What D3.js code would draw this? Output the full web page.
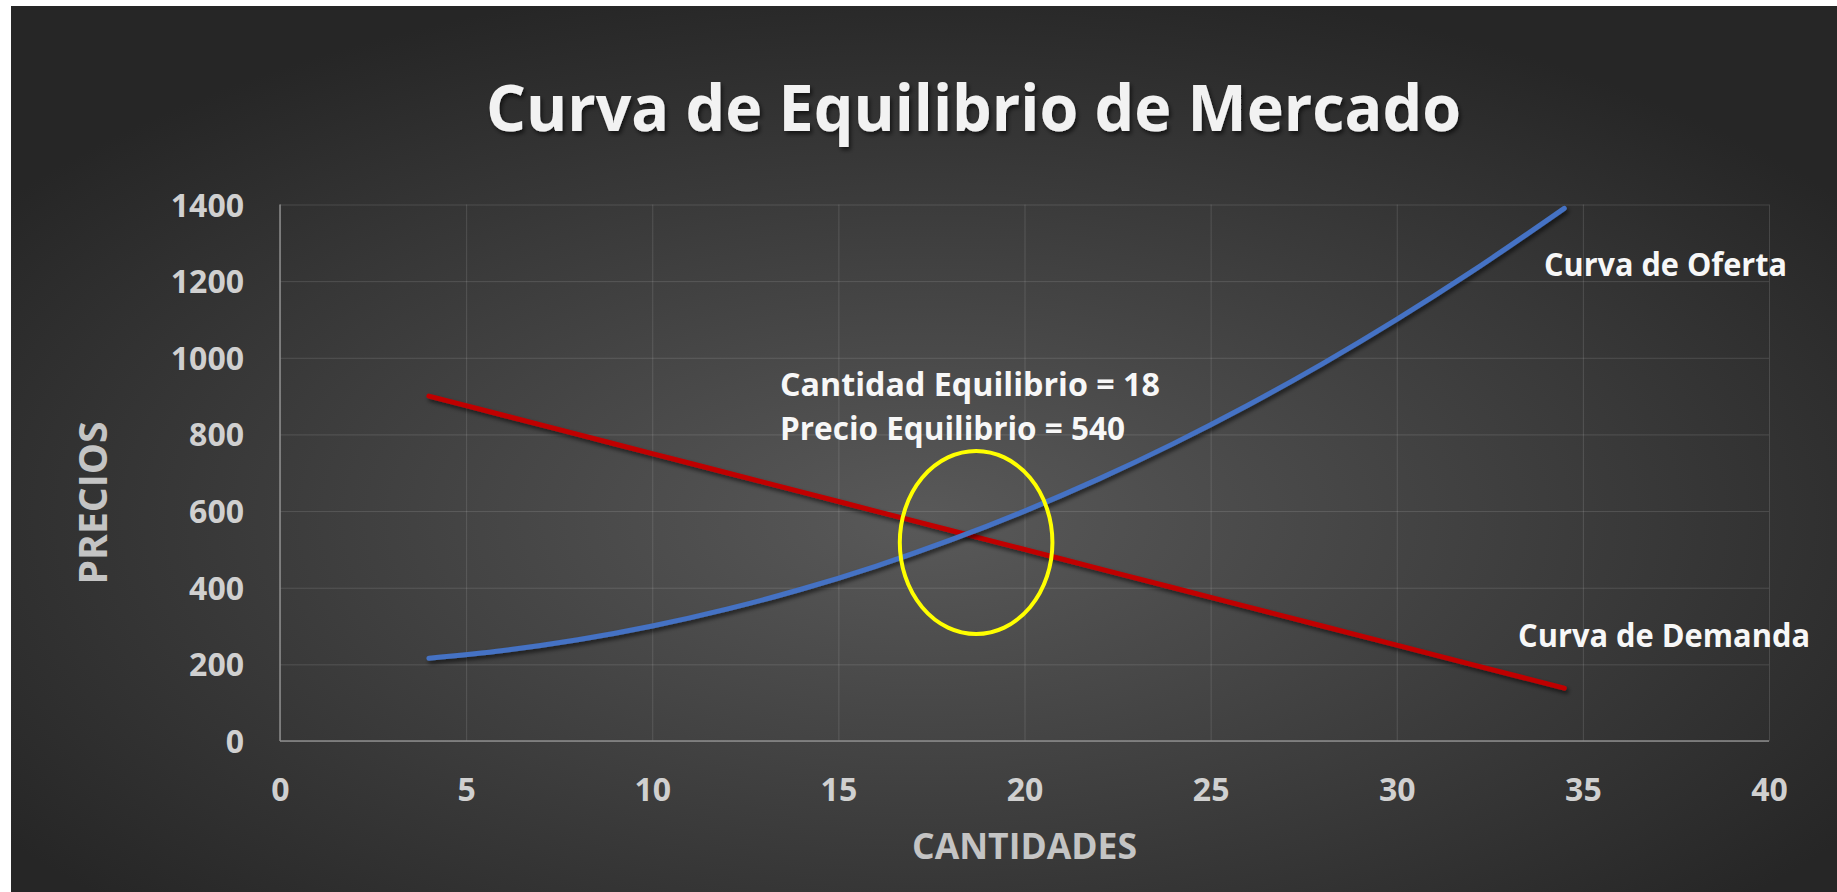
<!DOCTYPE html>
<html><head><meta charset="utf-8">
<script src="https://cdn.jsdelivr.net/npm/d3@7"></script>
<style>
  html,body{margin:0;padding:0;background:#fff;}
  svg{display:block;}
  text{font-family:"Open Sans","Liberation Sans",sans-serif;font-weight:700;}
</style></head>
<body><div id="chart"></div>
<script>
// Curva de Equilibrio de Mercado — oferta vs demanda
const cantidades = [4, 6, 8, 10, 12, 14, 16, 18, 20, 22, 24, 26, 28, 30, 32, 34.5];
const oferta     = [216, 236, 264, 300, 344, 396, 456, 524, 600, 684, 776, 876, 984, 1100, 1224, 1390];
const demanda    = [900, 850, 800, 750, 700, 650, 600, 550, 500, 450, 400, 350, 300, 250, 200, 138];
const xTicks = [0, 5, 10, 15, 20, 25, 30, 35, 40];
const yTicks = [0, 200, 400, 600, 800, 1000, 1200, 1400];
const equilibrio = {q: 18.7, p: 518, dq: 2.05, dp: 239};  // yellow ring, data units
const textos = {
  title: 'Curva de Equilibrio de Mercado',
  xTitle: 'CANTIDADES', yTitle: 'PRECIOS',
  oferta: 'Curva de Oferta', demanda: 'Curva de Demanda',
  eq1: 'Cantidad Equilibrio = 18', eq2: 'Precio Equilibrio = 540'
};

const W = 1837, H = 892;
const m = {l: 280, r: W - 1769, t: 204.5, b: H - 741};
const iw = W - m.l - m.r, ih = H - m.t - m.b;

const svg = d3.select('#chart').append('svg').attr('width', W).attr('height', H);
const defs = svg.append('defs');
const rg = defs.append('radialGradient').attr('id', 'bg').attr('cx', '0.5').attr('cy', '0.58').attr('r', '0.62');
rg.append('stop').attr('offset', '0').attr('stop-color', '#595959');
rg.append('stop').attr('offset', '1').attr('stop-color', '#262626');
const sh = defs.append('filter').attr('id', 'sh').attr('x', '-10%').attr('y', '-10%').attr('width', '120%').attr('height', '130%');
sh.append('feDropShadow').attr('dx', 2).attr('dy', 3).attr('stdDeviation', 2).attr('flood-color', '#000').attr('flood-opacity', .6);

svg.append('rect').attr('x', 11).attr('y', 6).attr('width', W - 11).attr('height', H - 6).attr('fill', 'url(#bg)');

const x = d3.scaleLinear().domain([0, 40]).range([0, iw]);
const y = d3.scaleLinear().domain([0, 1400]).range([ih, 0]);
const g = svg.append('g').attr('transform', `translate(${m.l},${m.t})`);

// grid + tick labels
const gy = g.append('g').call(d3.axisLeft(y).tickValues(yTicks).tickFormat(d3.format('d')).tickSize(-iw).tickPadding(36));
const gx = g.append('g').attr('transform', `translate(0,${ih})`)
  .call(d3.axisBottom(x).tickValues(xTicks).tickFormat(d3.format('d')).tickSize(-ih).tickPadding(37.5));
[gy, gx].forEach(a => {
  a.select('.domain').remove();
  a.selectAll('line').attr('stroke', '#fff').attr('stroke-opacity', .13);
  a.selectAll('text').attr('fill', '#d0d0d0').attr('font-size', 32);
});
gy.selectAll('text').attr('dy', '0.36em');
g.append('line').attr('x1', 0).attr('x2', 0).attr('y1', 0).attr('y2', ih).attr('stroke', '#8c8c8c').attr('stroke-width', 1.5);
g.append('line').attr('x1', 0).attr('x2', iw).attr('y1', ih).attr('y2', ih).attr('stroke', '#8c8c8c').attr('stroke-width', 1.5);

// series
const line = vals => d3.line().x((d, i) => x(cantidades[i])).y(d => y(d)).curve(d3.curveMonotoneX)(vals);
[[demanda, '#c00000'], [oferta, '#4472c4']].forEach(([vals, col]) => {
  g.append('path').attr('d', line(vals)).attr('fill', 'none').attr('stroke', col)
    .attr('stroke-width', 5).attr('stroke-linecap', 'round').attr('filter', 'url(#sh)');
});

// equilibrium ring
g.append('ellipse').attr('cx', x(equilibrio.q)).attr('cy', y(equilibrio.p))
  .attr('rx', x(equilibrio.dq) - x(0)).attr('ry', y(0) - y(equilibrio.dp))
  .attr('fill', 'none').attr('stroke', '#ffff00').attr('stroke-width', 4);

// texts: content, x, baseline, size, width, colour
function label(t, px, py, size, width, col, parent = svg){
  return parent.append('text').attr('x', px).attr('y', py).attr('font-size', size).attr('fill', col)
    .attr('textLength', width).attr('lengthAdjust', 'spacingAndGlyphs').text(t);
}
label(textos.title, 486, 131, 64, 975, '#f2f2f2').attr('filter', 'url(#sh)');
label(textos.xTitle, 912, 859, 35, 225, '#c4c4c4');
const yt = svg.append('g').attr('transform', 'translate(106.5,503) rotate(-90)');
label(textos.yTitle, -81.5, 0, 40, 163, '#c4c4c4', yt);
label(textos.oferta, 1544, 276, 33, 243, '#f7f7f7');
label(textos.demanda, 1518, 647, 33, 292, '#f7f7f7');
label(textos.eq1, 780, 396, 32, 380, '#f7f7f7');
label(textos.eq2, 780, 440, 32, 345, '#f7f7f7');
</script></body></html>
